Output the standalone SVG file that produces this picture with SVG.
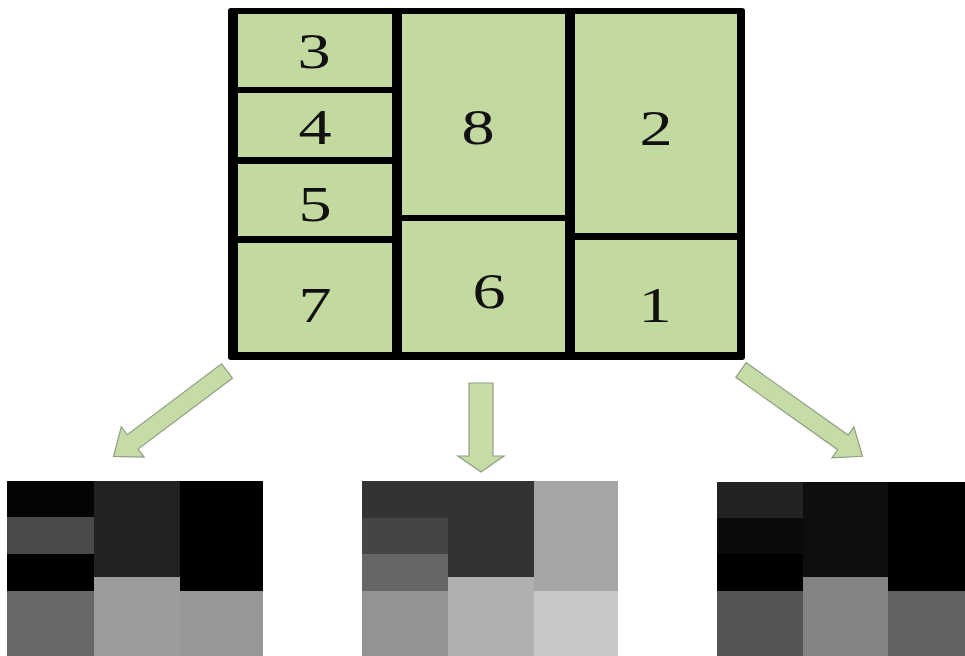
<svg xmlns="http://www.w3.org/2000/svg" width="965" height="656" viewBox="0 0 965 656">
<style>
.cell{fill:#c2d9a0}
.num{font-family:"Liberation Serif","Times New Roman",serif;font-size:51px;fill:#111;text-anchor:middle}
.arrow{fill:#c5dca7;stroke:#8f9e85;stroke-width:1.2;stroke-linejoin:miter}
</style>
<rect width="965" height="656" fill="#ffffff"/>
<g id="grid">
<rect x="228" y="8" width="517" height="352" rx="3" fill="#000"/>
<g id="cell3"><rect class="cell" x="238" y="14" width="154" height="73"/><text class="num" transform="translate(314,68) scale(1.3,1)">3</text></g>
<g id="cell4"><rect class="cell" x="238" y="93" width="154" height="64"/><text class="num" transform="translate(315,144) scale(1.3,1)">4</text></g>
<g id="cell5"><rect class="cell" x="238" y="164" width="154" height="72"/><text class="num" transform="translate(315,221) scale(1.3,1)">5</text></g>
<g id="cell7"><rect class="cell" x="238" y="243" width="154" height="109"/><text class="num" transform="translate(315,322) scale(1.3,1)">7</text></g>
<g id="cell8"><rect class="cell" x="402" y="14" width="163" height="201"/><text class="num" transform="translate(478,144) scale(1.3,1)">8</text></g>
<g id="cell6"><rect class="cell" x="402" y="221" width="163" height="131"/><text class="num" transform="translate(489,308) scale(1.3,1)">6</text></g>
<g id="cell2"><rect class="cell" x="575" y="14" width="162" height="219"/><text class="num" transform="translate(656,145) scale(1.3,1)">2</text></g>
<g id="cell1"><rect class="cell" x="575" y="240" width="162" height="112"/><text class="num" transform="translate(655,322) scale(1.3,1)">1</text></g>
</g>
<g id="connectors">
<polygon class="arrow" transform="translate(227,371) rotate(143.05)" points="0,-9 118,-9 118,-19 142,0 118,19 118,9 0,9"/>
<polygon class="arrow" points="469,383 493,383 493,456 504,456 481,472 458,456 469,456"/>
<polygon class="arrow" transform="translate(741,370) rotate(35.4)" points="0,-9 125,-9 125,-19 149,0 125,19 125,9 0,9"/>
</g>
<g id="map-left">
<rect x="7" y="481" width="87" height="36" fill="#050505"/>
<rect x="7" y="517" width="87" height="37" fill="#4a4a4a"/>
<rect x="7" y="554" width="87" height="37" fill="#000"/>
<rect x="7" y="591" width="87" height="65" fill="#686868"/>
<rect x="94" y="481" width="86" height="96" fill="#222"/>
<rect x="94" y="577" width="86" height="79" fill="#9c9c9c"/>
<rect x="180" y="481" width="83" height="110" fill="#000"/>
<rect x="180" y="591" width="83" height="65" fill="#979797"/>
</g>
<g id="map-middle">
<rect x="362" y="481" width="86" height="37" fill="#333"/>
<rect x="362" y="518" width="86" height="36" fill="#454545"/>
<rect x="362" y="554" width="86" height="37" fill="#666"/>
<rect x="362" y="591" width="86" height="65" fill="#939393"/>
<rect x="448" y="481" width="86" height="96" fill="#333"/>
<rect x="448" y="577" width="86" height="79" fill="#b0b0b0"/>
<rect x="534" y="481" width="84" height="110" fill="#a5a5a5"/>
<rect x="534" y="591" width="84" height="65" fill="#c8c8c8"/>
</g>
<g id="map-right">
<rect x="717" y="482" width="86" height="36" fill="#232323"/>
<rect x="717" y="518" width="86" height="36" fill="#0b0b0b"/>
<rect x="717" y="554" width="86" height="37" fill="#000"/>
<rect x="717" y="591" width="86" height="65" fill="#555"/>
<rect x="803" y="482" width="85" height="95" fill="#0e0e0e"/>
<rect x="803" y="577" width="85" height="79" fill="#838383"/>
<rect x="888" y="482" width="77" height="109" fill="#000"/>
<rect x="888" y="591" width="77" height="65" fill="#626262"/>
</g>
</svg>
